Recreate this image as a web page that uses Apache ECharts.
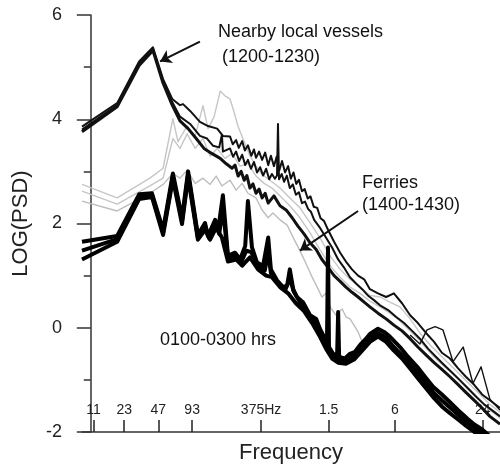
<!DOCTYPE html>
<html><head><meta charset="utf-8">
<script src="https://cdn.jsdelivr.net/npm/echarts@6/dist/echarts.min.js"></script>
<style>html,body{margin:0;padding:0;background:#fff}#c{width:500px;height:469px}</style>
</head><body><div id="c"></div>
<script>
// x values are octaves above the 11.7 Hz band (log2 of frequency / 11.72 Hz)
const tickPos = [0.08, 0.99, 2.0, 3.0, 5.04, 7.04, 9.0, 11.6];
const tickLabels = ['11', '23', '47', '93', '375Hz', '1.5', '6', '24'];

// Nearby local vessels (1200-1230)
const nearby1 = [[-0.26,3.86],[0.78,4.31],[1.43,5.11],[1.84,5.38],[2.14,4.77],[2.41,4.39],[2.64,4.27],[2.73,4.29],[2.94,4.16],[3.23,3.95],[3.47,3.87],[3.74,3.82],[3.91,3.68],[4.12,3.67],[4.20,3.52],[4.30,3.60],[4.38,3.45],[4.48,3.58],[4.56,3.40],[4.65,3.50],[4.75,3.30],[4.83,3.42],[4.89,3.26],[4.98,3.38],[5.07,3.22],[5.16,3.36],[5.25,3.12],[5.33,3.30],[5.42,3.10],[5.50,3.28],[5.58,3.02],[5.66,3.20],[5.75,2.98],[5.84,3.10],[5.92,2.86],[6.00,2.98],[6.08,2.76],[6.16,2.84],[6.25,2.62],[6.33,2.66],[6.42,2.48],[6.50,2.52],[6.60,2.32],[6.70,2.30],[6.80,2.10],[6.90,2.05],[7.02,1.88],[7.20,1.65],[7.38,1.44],[7.55,1.27],[7.73,1.12],[7.91,1.00],[8.09,0.93],[8.26,0.74],[8.50,0.66],[8.74,0.59],[8.97,0.66],[9.21,0.47],[9.45,0.24],[9.68,0.09],[9.92,-0.10],[10.16,-0.27],[10.39,-0.48],[10.63,-0.59],[10.87,-0.78],[11.10,-0.94],[11.34,-1.09],[11.58,-1.28],[11.81,-1.39],[12.11,-1.54]];
const nearby2 = [[-0.26,3.80],[0.78,4.27],[1.43,5.07],[1.84,5.34],[2.14,4.73],[2.41,4.33],[2.64,4.05],[2.94,3.91],[3.23,3.68],[3.44,3.63],[3.62,3.49],[3.80,3.46],[3.88,3.70],[3.91,3.38],[4.12,3.44],[4.21,3.28],[4.30,3.38],[4.39,3.20],[4.48,3.32],[4.57,3.12],[4.65,3.22],[4.74,3.05],[4.83,3.18],[4.92,2.98],[5.01,3.08],[5.10,2.92],[5.19,3.05],[5.28,2.85],[5.36,2.95],[5.45,2.86],[5.51,2.92],[5.54,3.91],[5.57,2.85],[5.65,2.95],[5.72,2.80],[5.80,2.92],[5.89,2.68],[5.98,2.75],[6.07,2.55],[6.16,2.60],[6.25,2.39],[6.34,2.42],[6.43,2.28],[6.52,2.22],[6.61,2.07],[6.78,1.92],[6.96,1.73],[7.14,1.54],[7.32,1.31],[7.49,1.16],[7.67,0.97],[7.85,0.85],[8.03,0.74],[8.20,0.62],[8.38,0.53],[8.56,0.43],[8.80,0.34],[9.03,0.21],[9.27,0.09],[9.51,-0.06],[9.74,-0.21],[9.98,-0.40],[10.22,-0.56],[10.45,-0.71],[10.69,-0.86],[10.93,-1.01],[11.16,-1.16],[11.40,-1.32],[11.64,-1.47],[11.87,-1.58],[12.11,-1.70]];
const nearby3 = [[-0.26,3.76],[0.78,4.24],[1.43,5.03],[1.84,5.32],[2.14,4.69],[2.41,4.27],[2.64,3.97],[2.88,3.82],[3.12,3.63],[3.35,3.44],[3.59,3.34],[3.83,3.25],[4.00,3.15],[4.18,3.06],[4.27,3.12],[4.36,2.91],[4.45,3.00],[4.54,2.83],[4.62,2.92],[4.71,2.68],[4.80,2.76],[4.89,2.58],[4.98,2.66],[5.07,2.49],[5.16,2.58],[5.25,2.39],[5.42,2.53],[5.60,2.34],[5.78,2.26],[5.96,2.11],[6.13,1.95],[6.31,1.80],[6.49,1.63],[6.67,1.50],[6.84,1.31],[7.02,1.16],[7.20,1.00],[7.38,0.89],[7.55,0.78],[7.73,0.68],[7.91,0.59],[8.09,0.49],[8.26,0.40],[8.50,0.28],[8.74,0.17],[8.97,0.05],[9.21,-0.06],[9.45,-0.21],[9.68,-0.37],[9.92,-0.52],[10.16,-0.67],[10.39,-0.80],[10.63,-0.94],[10.87,-1.09],[11.10,-1.24],[11.34,-1.39],[11.58,-1.54],[11.81,-1.70],[12.11,-1.85]];
const nearby4 = [[9.45,-0.14],[9.74,-0.31],[9.95,-0.04],[10.19,0.02],[10.42,-0.04],[10.72,-0.65],[11.02,-0.37],[11.31,-1.07],[11.55,-0.75],[11.81,-1.37],[12.11,-1.58]];

// Ferries (1400-1430) - grey
const ferry1 = [[-0.26,2.75],[0.78,2.49],[1.75,2.87],[2.14,3.06],[2.43,4.01],[2.58,3.57],[2.85,3.87],[3.09,3.68],[3.32,4.26],[3.47,3.82],[3.65,4.05],[3.83,4.54],[3.97,4.45],[4.12,4.39],[4.24,4.14],[4.36,3.86],[4.54,3.57],[4.71,3.30],[4.89,3.10],[5.07,2.94],[5.30,2.83],[5.60,2.68],[5.89,2.49],[6.19,2.30],[6.49,2.01],[6.78,1.73],[7.08,1.38],[7.38,1.12],[7.67,0.93],[7.97,0.78],[8.26,0.62],[8.56,0.59],[8.85,0.49],[9.15,0.40],[9.45,0.17],[9.74,-0.10],[10.04,-0.33],[10.33,-0.52],[10.63,-0.71],[10.93,-0.90],[11.22,-1.09],[11.52,-1.28],[11.81,-1.47],[12.11,-1.62]];
const ferry2 = [[-0.26,2.43],[0.78,2.24],[1.75,2.58],[2.14,2.75],[2.43,2.96],[2.64,2.87],[2.85,3.02],[3.09,2.77],[3.32,2.87],[3.53,2.75],[3.71,2.91],[3.88,2.72],[4.12,2.83],[4.30,2.64],[4.48,2.77],[4.65,2.58],[4.89,2.49],[5.07,2.26],[5.25,2.11],[5.39,2.20],[5.60,2.07],[5.81,1.97],[5.99,1.73],[6.19,1.48],[6.40,1.19],[6.55,0.97],[6.70,0.78],[6.84,0.59],[6.96,0.66],[7.08,0.40],[7.26,0.24],[7.44,0.36],[7.55,0.21],[7.67,0.17],[7.79,0.05],[7.91,-0.08],[8.03,-0.27],[8.15,-0.17],[8.32,-0.14],[8.56,-0.10],[8.85,-0.21],[9.15,-0.37],[9.45,-0.59],[9.74,-0.82],[10.04,-1.05],[10.33,-1.24],[10.63,-1.41],[10.93,-1.62],[11.22,-1.81],[11.52,-2.00]];
const ferry3 = [[-0.26,2.62],[0.78,2.37],[1.75,2.72],[2.14,2.87],[2.43,3.63],[2.64,3.44],[2.85,3.72],[3.09,3.44],[3.32,3.63],[3.53,3.29],[3.74,3.44],[3.97,3.25],[4.18,3.34],[4.42,3.10],[4.65,3.15],[4.89,2.91],[5.13,2.77],[5.36,2.68],[5.60,2.53],[5.89,2.34],[6.19,2.11],[6.49,1.82],[6.78,1.50],[7.08,1.19],[7.38,0.97],[7.67,0.78],[7.97,0.66],[8.26,0.51],[8.56,0.40],[8.85,0.28],[9.15,0.13],[9.45,-0.06],[9.74,-0.25],[10.04,-0.48],[10.33,-0.67],[10.63,-0.84],[10.93,-1.03],[11.22,-1.22],[11.52,-1.41],[11.81,-1.58],[12.11,-1.73]];

// 0100-0300 hrs - thick black bundle
const night1 = [[-0.26,1.65],[0.78,1.76],[1.43,2.56],[1.81,2.58],[2.14,1.88],[2.43,2.96],[2.70,2.11],[2.88,3.00],[3.17,1.78],[3.38,2.01],[3.47,1.76],[3.68,2.07],[3.77,1.88],[3.91,2.54],[4.06,1.38],[4.27,1.44],[4.42,1.31],[4.57,1.57],[4.65,2.43],[4.77,1.54],[4.92,1.25],[5.10,1.19],[5.25,1.73],[5.33,1.12],[5.51,0.91],[5.69,0.78],[5.81,0.81],[5.89,1.12],[5.99,0.74],[6.10,0.59],[6.28,0.49],[6.49,0.24],[6.67,0.17],[6.78,-0.02],[6.90,-0.17],[6.99,-0.27],[7.02,1.54],[7.05,-0.37],[7.17,-0.50],[7.29,-0.52],[7.32,0.30],[7.35,-0.56],[7.52,-0.59],[7.67,-0.50],[7.82,-0.46],[7.97,-0.33],[8.12,-0.23],[8.26,-0.12],[8.50,-0.02],[8.68,-0.08],[8.85,-0.17],[9.15,-0.37],[9.39,-0.56],[9.66,-0.75],[9.89,-0.94],[10.13,-1.13],[10.39,-1.28],[10.63,-1.43],[10.87,-1.58],[11.14,-1.74],[11.34,-1.85],[11.58,-1.95],[11.81,-2.08]];
const night2 = [[-0.26,1.31],[0.78,1.65],[1.43,2.47],[1.81,2.51],[2.14,1.78],[2.43,2.85],[2.70,1.99],[2.88,2.89],[3.17,1.69],[3.38,1.88],[3.53,1.69],[3.71,1.92],[3.88,1.73],[4.06,1.27],[4.30,1.31],[4.48,1.19],[4.71,1.35],[4.95,1.12],[5.19,1.00],[5.36,0.97],[5.60,0.78],[5.84,0.66],[6.07,0.47],[6.31,0.32],[6.55,0.09],[6.78,-0.17],[6.96,-0.40],[7.14,-0.59],[7.32,-0.67],[7.55,-0.69],[7.79,-0.61],[8.03,-0.44],[8.26,-0.27],[8.50,-0.17],[8.74,-0.27],[8.97,-0.44],[9.21,-0.59],[9.45,-0.78],[9.68,-0.97],[9.92,-1.16],[10.16,-1.35],[10.39,-1.51],[10.63,-1.64],[10.87,-1.76],[11.10,-1.88],[11.35,-2.00],[11.60,-2.10]];
const night3 = [[-0.26,1.48],[0.78,1.70],[1.43,2.52],[1.81,2.55],[2.14,1.83],[2.43,2.90],[2.70,2.05],[2.88,2.94],[3.17,1.73],[3.38,1.95],[3.50,1.72],[3.70,2.00],[3.80,1.80],[3.91,2.30],[4.06,1.33],[4.28,1.38],[4.45,1.25],[4.60,1.48],[4.75,1.45],[4.95,1.18],[5.15,1.10],[5.25,1.45],[5.33,1.05],[5.55,0.85],[5.75,0.72],[5.90,0.95],[6.00,0.70],[6.20,0.48],[6.40,0.28],[6.60,0.12],[6.80,-0.10],[6.98,-0.33],[7.15,-0.55],[7.35,-0.60],[7.55,-0.64],[7.75,-0.55],[8.00,-0.38],[8.26,-0.20],[8.50,-0.10],[8.72,-0.18],[8.95,-0.36],[9.20,-0.52],[9.45,-0.70],[9.70,-0.88],[9.92,-1.06],[10.15,-1.25],[10.40,-1.40],[10.63,-1.53],[10.87,-1.67],[11.12,-1.81],[11.40,-1.94],[11.65,-2.08]];

const FONT = 'Liberation Sans, Arial, sans-serif';
const chart = echarts.init(document.getElementById('c'), null, {renderer: 'canvas'});

function line(data, color, width, z) {
  return {type: 'line', data: data, showSymbol: false, symbol: 'none', clip: true,
    lineStyle: {color: color, width: width, join: 'round'}, z: z, animation: false, silent: true};
}
const series = [
  line(ferry1, '#c6c6c6', 1.4, 2),
  line(ferry3, '#c6c6c6', 1.4, 2),
  line(ferry2, '#bdbdbd', 1.4, 2),
  line(nearby1, '#111', 2, 3),
  line(nearby2, '#111', 2, 3),
  line(nearby3, '#111', 3, 3),
  line(nearby4, '#111', 1.4, 3),
  line(night1, '#000', 4, 4),
  line(night3, '#000', 4, 4),
  line(night2, '#000', 4, 4)
];
series[3].markLine = {
  silent: true, symbol: ['none', 'arrow'], symbolSize: 11, animation: false,
  label: {show: false},
  lineStyle: {color: '#111', width: 2, type: 'solid'},
  data: [
    [{coord: [3.23, 5.49]}, {coord: [2.05, 5.11]}],
    [{coord: [7.91, 2.24]}, {coord: [6.19, 1.48]}]
  ]
};

chart.setOption({
  animation: false,
  backgroundColor: '#fff',
  grid: {left: 82, right: 0, top: 15, bottom: 33, containLabel: false},
  xAxis: {
    type: 'value', min: -0.26, max: 12.11,
    name: 'Frequency', nameLocation: 'middle', nameGap: 10,
    nameTextStyle: {fontFamily: FONT, fontSize: 22, color: '#222', verticalAlign: 'top'},
    axisLine: {show: true, onZero: false, lineStyle: {color: '#333', width: 1.5}},
    axisTick: {show: true, inside: true, length: 12, customValues: tickPos, lineStyle: {color: '#222', width: 1.5}},
    axisLabel: {show: true, inside: true, margin: 15, customValues: tickPos,
      fontFamily: FONT, fontSize: 14, color: '#222',
      formatter: function (v) { const i = tickPos.indexOf(v); return i >= 0 ? tickLabels[i] : ''; }},
    splitLine: {show: false}, minorTick: {show: false}
  },
  yAxis: {
    type: 'value', min: -2, max: 6, interval: 2,
    name: 'LOG(PSD)', nameLocation: 'middle', nameGap: 50, nameRotate: 90,
    nameTextStyle: {fontFamily: FONT, fontSize: 22, color: '#222'},
    axisLine: {show: true, lineStyle: {color: '#333', width: 1.5}},
    axisTick: {show: true, inside: false, length: 14, lineStyle: {color: '#333', width: 1.5}},
    minorTick: {show: true, splitNumber: 2, length: 7, lineStyle: {color: '#333', width: 1.5}},
    axisLabel: {fontFamily: FONT, fontSize: 18, color: '#222', margin: 20},
    splitLine: {show: false}
  },
  graphic: [
    {type: 'text', x: 218, y: 32, silent: true, style: {text: 'Nearby local vessels', font: '18px ' + FONT, fill: '#111', verticalAlign: 'middle', align: 'left'}},
    {type: 'text', x: 222, y: 57, silent: true, style: {text: '(1200-1230)', font: '18px ' + FONT, fill: '#111', verticalAlign: 'middle', align: 'left'}},
    {type: 'text', x: 362, y: 183, silent: true, style: {text: 'Ferries', font: '18px ' + FONT, fill: '#111', verticalAlign: 'middle', align: 'left'}},
    {type: 'text', x: 362, y: 205, silent: true, style: {text: '(1400-1430)', font: '18px ' + FONT, fill: '#111', verticalAlign: 'middle', align: 'left'}},
    {type: 'text', x: 160, y: 340, silent: true, style: {text: '0100-0300 hrs', font: '18px ' + FONT, fill: '#111', verticalAlign: 'middle', align: 'left'}}
  ],
  series: series
});
</script>
</body></html>
